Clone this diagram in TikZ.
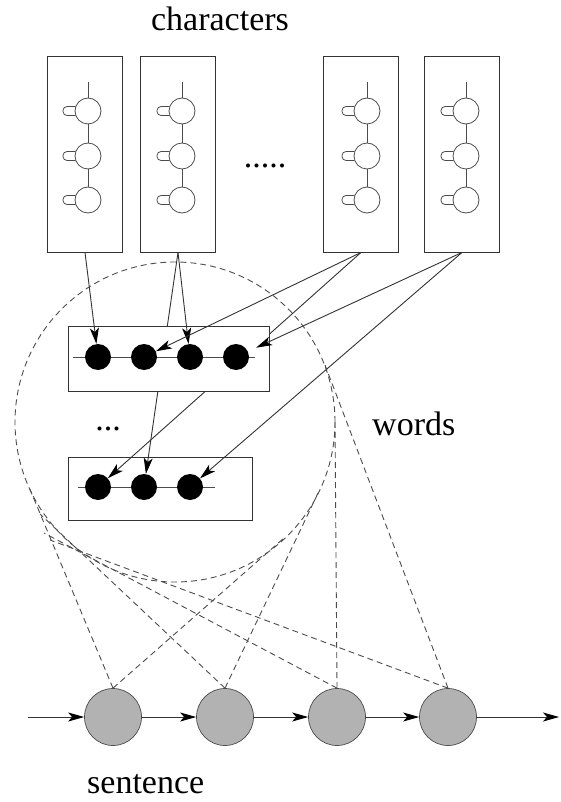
\documentclass[tikz,border=0pt]{standalone}
\usepackage{fontspec}
\setmainfont{Liberation Serif}
\usetikzlibrary{arrows.meta,calc}
\tikzset{
  cbox/.style={draw=black!80, line width=0.9pt, minimum width=75pt, minimum height=196pt, inner sep=0pt},
  unit/.style={circle, draw=black!70, line width=0.8pt, minimum size=26pt, inner sep=0pt},
  wnode/.style={circle, fill=black, minimum size=26pt, inner sep=0pt},
  wbox/.style={draw=black!80, line width=0.9pt, fill=white, inner sep=0pt},
  snode/.style={circle, draw=black!70, line width=0.7pt, fill=gray!60, minimum size=57pt, inner sep=0pt},
  arr/.style={draw=black!80, line width=0.9pt, -{Stealth[length=16pt,width=9pt,inset=4pt,color=black,fill=black]}},
  dsh/.style={draw=black!70, line width=0.9pt, dash pattern=on 6pt off 4pt},
  thin line/.style={draw=black!70, line width=0.8pt},
  lbl/.style={font=\fontsize{34}{40}\selectfont, inner sep=0pt},
}
\begin{document}
\begin{tikzpicture}[x=1pt,y=-1pt]
\useasboundingbox (0,0) rectangle (561,802);

% character boxes
\foreach \i/\cx/\ux in {1/85/88, 2/178/182, 3/361/367, 4/462/466}{
  \node[cbox] (cb\i) at (\cx,154) {};
  \foreach \j/\uy in {1/111, 2/156, 3/200}{
    \node[unit] (u\i\j) at (\ux,\uy) {};
    \draw[thin line, rounded corners=4pt] (\ux-12.5,\uy-4.5) -- (\ux-25,\uy-4.5) -- (\ux-25,\uy+4.5) -- (\ux-12.5,\uy+4.5);
  }
  \draw[thin line] (u\i1.north) -- ++(0,-16);
  \draw[thin line] (u\i1.south) -- (u\i2.north);
  \draw[thin line] (u\i2.south) -- (u\i3.north);
}

% labels
\node[lbl, anchor=base] (tchar) at (220,31) {characters};
\node[lbl, anchor=base] (tdots) at (265,168) {.....};
\node[lbl, anchor=base west] (twords) at (372,435) {words};
\node[lbl, anchor=base] (tdots2) at (108,430) {...};
\node[lbl, anchor=base west] (tsent) at (87,793) {sentence};

% lower word box
\node[wbox, minimum width=184pt, minimum height=63pt] (wb2) at (160,488.5) {};
\draw[thin line] (78,487) coordinate (l2a) -- (215,487) coordinate (l2b);
\foreach \k/\x in {1/98, 2/144, 3/190}{
  \node[wnode] (w2\k) at (\x,487) {};
}

% connections passing behind the upper word box
\draw[arr] (cb2.south) -- (w22);
\draw[arr] (cb3.south) -- (w21);
\draw[arr] (cb4.south) -- (w23);

% upper word box
\node[wbox, minimum width=201pt, minimum height=65pt] (wb1) at (168.5,358.5) {};
\draw[thin line] (73,357) coordinate (l1a) -- (255,357) coordinate (l1b);
\foreach \k/\x in {1/98, 2/144, 3/190, 4/236}{
  \node[wnode] (w1\k) at (\x,357) {};
}
\draw[arr] (cb1.south) -- (w11);
\draw[arr] (cb2.south) -- (w13);
\draw[arr] (cb3.south) -- (w12);
\draw[arr, shorten >=9pt] (cb4.south) -- (w14);

% word-level circle
\node[circle, dsh, minimum size=320pt, inner sep=0pt] (wc) at (175,422) {};

% sentence nodes
\foreach \k/\x in {1/113, 2/225, 3/337, 4/448}{
  \node[snode] (s\k) at (\x,717) {};
}
\coordinate (sin) at (28,717);
\coordinate (sout) at (559,717);
\draw[arr] (sin) -- (s1);
\draw[arr] (s1) -- (s2);
\draw[arr] (s2) -- (s3);
\draw[arr] (s3) -- (s4);
\draw[arr] (s4) -- (sout);

% cone lines from sentence nodes to the word circle
\coordinate (e1l) at (29,487);
\coordinate (e1r) at (284,538);
\coordinate (e2l) at (40,514);
\coordinate (e2r) at (319,491);
\coordinate (e3l) at (44,533);
\coordinate (e3r) at (335,421);
\coordinate (e4l) at (50,540);
\coordinate (e4r) at (325,365);
\foreach \k in {1,2,3,4}{
  \draw[dsh] (s\k.north) -- (e\k l);
  \draw[dsh] (s\k.north) -- (e\k r);
}
\end{tikzpicture}
\end{document}
